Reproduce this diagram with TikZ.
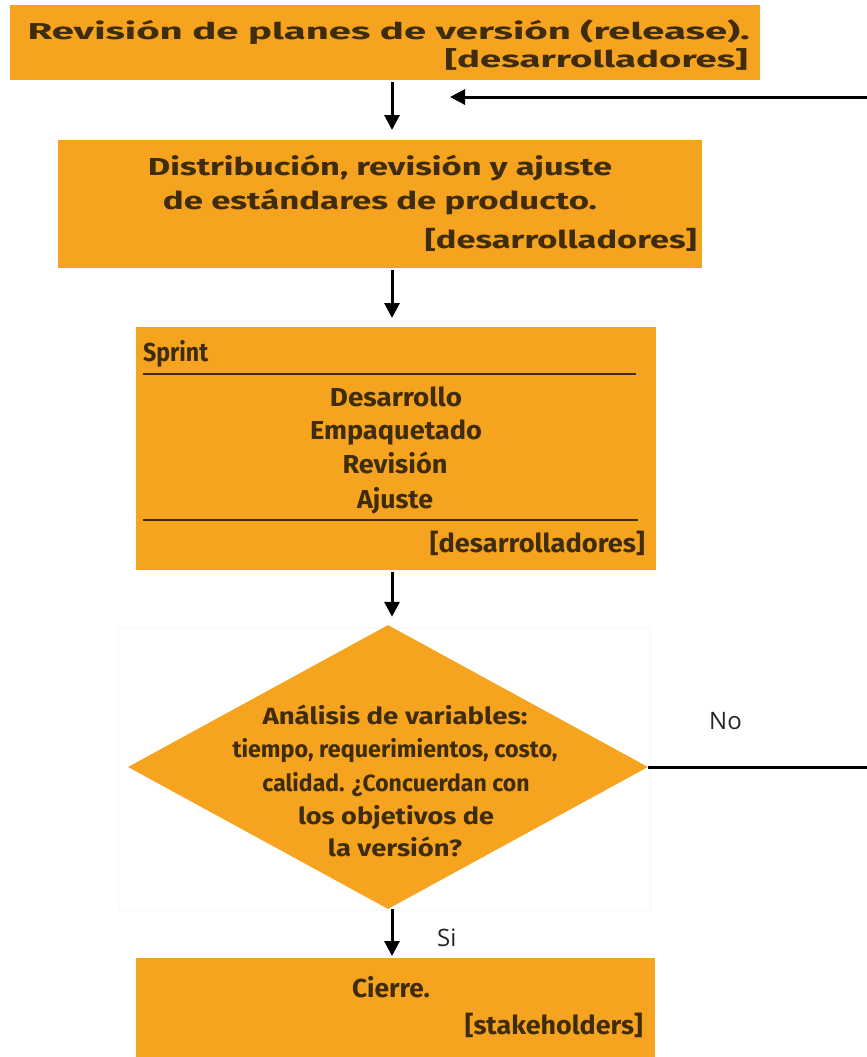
\documentclass[tikz,border=0pt]{standalone}
\usepackage{fontspec}
\usepackage{graphicx}
\setmainfont{Fira Sans}
\newfontfamily\labelfont{Open Sans}
\usetikzlibrary{arrows.meta,shapes.geometric}
\definecolor{boxfill}{HTML}{F6A31F}
\definecolor{ink}{HTML}{3E2C0C}
% stretch a line of text to a given width, keeping its height
\newcommand\wfit[2]{\resizebox{#1}{\height}{#2}}
\tikzset{
  stepbox/.style={fill=boxfill, draw=none, inner sep=0pt, anchor=north west},
  decision/.style={diamond, fill=boxfill, draw=none, inner sep=0pt, aspect=1},
  tbig/.style={text=ink, inner sep=0pt, font=\bfseries\fontsize{23}{26}\selectfont},
  tmid/.style={text=ink, inner sep=0pt, font=\bfseries\fontsize{24.5}{28}\selectfont},
  tstd/.style={text=ink, inner sep=0pt, font=\bfseries\fontsize{26}{29}\selectfont},
  tdia/.style={text=ink, inner sep=0pt, font=\bfseries\fontsize{23.5}{27}\selectfont},
  flow/.style={line width=3pt, -{Triangle[length=15pt,width=15pt]}},
  plain/.style={line width=3pt},
  rule/.style={line width=2.6pt, draw=ink},
  edgelabel/.style={inner sep=0pt, font=\labelfont\fontsize{24}{28}\selectfont, text=black!85}
}
\begin{document}
\begin{tikzpicture}[x=1pt,y=-1pt]
\useasboundingbox (0,0) rectangle (867,1057);

% main column of the flow and the right edge
\coordinate (col) at (392,0);
\coordinate (edge) at (867,0);

% 1: release plan review
\node[stepbox, minimum width=750pt, minimum height=75pt] (plan) at (10,5) {};
\node[tbig, anchor=base east] (planA) at (750,39) {\wfit{722pt}{Revisión de planes de versión (release).}};
\node[tbig, anchor=base east] (planB) at (748,68) {\wfit{303pt}{[desarrolladores]}};

% 2: standards
\node[stepbox, minimum width=644pt, minimum height=128pt] (std) at (58,140) {};
\node[tmid, anchor=base] (stdA) at (380,175) {\wfit{464pt}{Distribución, revisión y ajuste}};
\node[tmid, anchor=base] (stdB) at (380,209) {\wfit{434pt}{de estándares de producto.}};
\node[tmid, anchor=base east] (stdC) at (697,248) {\wfit{272pt}{[desarrolladores]}};

% 3: sprint
\node[stepbox, minimum width=520pt, minimum height=243pt] (sprint) at (136,327) {};
\node[tstd, anchor=base west] (sprT) at (143,361) {\wfit{65pt}{Sprint}};
\draw[rule] (143,374) -- (636,374);
\node[tstd, anchor=base] (spr1) at (396,406) {\wfit{132pt}{Desarrollo}};
\node[tstd, anchor=base] (spr2) at (396,439) {\wfit{172pt}{Empaquetado}};
\node[tstd, anchor=base] (spr3) at (395,473) {\wfit{105pt}{Revisión}};
\node[tstd, anchor=base] (spr4) at (395,508) {\wfit{76pt}{Ajuste}};
\draw[rule] (143,520) -- (638,520);
\node[tstd, anchor=base east] (sprC) at (645,552) {\wfit{215pt}{[desarrolladores]}};

% 4: decision
\draw[draw=black!3, line width=0.6pt] (118,628) rectangle (650,910);
\node[decision, minimum width=520pt, minimum height=284pt] (check) at (388,767) {};
\node[tdia, anchor=base] (chk1) at (395,724) {\wfit{265pt}{Análisis de variables:}};
\node[tdia, anchor=base] (chk2) at (395,757) {\wfit{325pt}{tiempo, requerimientos, costo,}};
\node[tdia, anchor=base] (chk3) at (396,791) {\wfit{267pt}{calidad. ¿Concuerdan con}};
\node[tdia, anchor=base] (chk4) at (396,824) {\wfit{196pt}{los objetivos de}};
\node[tdia, anchor=base] (chk5) at (395,856) {\wfit{134pt}{la versión?}};

% 5: closing
\node[stepbox, minimum width=519pt, minimum height=105pt] (close) at (136,958) {};
\node[tstd, anchor=base] (cls1) at (391,997) {\wfit{78pt}{Cierre.}};
\node[tstd, anchor=base east] (cls2) at (643,1034) {\wfit{178pt}{[stakeholders]}};

% connectors down the column
\draw[flow, shorten >=10pt, shorten <=2pt] (plan.south -| col) -- (std.north -| col);
\draw[flow, shorten >=9pt, shorten <=2pt] (std.south -| col) -- (sprint.north -| col);
\draw[flow, shorten >=8pt, shorten <=2pt] (sprint.south -| col) -- (check.north -| col);
\draw[flow, shorten >=2pt] (check.south -| col) -- (close.north -| col);
\node[edgelabel, anchor=base west] (yes) at (437,946) {Si};

% loop back when the check fails
\coordinate (noEnd) at (check.east -| edge);
\draw[plain] (check.east) -- (noEnd);
\node[edgelabel, anchor=base west] (no) at (709,729) {No};
\coordinate (backIn) at (867,97);
\coordinate (backTip) at (450,97);
\draw[flow] (backIn) -- (backTip);
\end{tikzpicture}
\end{document}
